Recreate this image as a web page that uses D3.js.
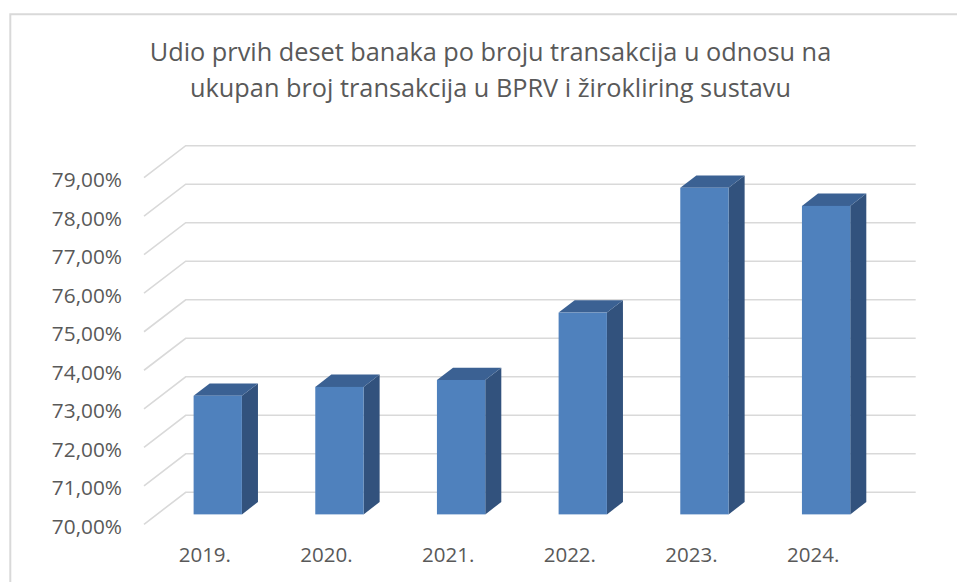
<!DOCTYPE html>
<html>
<head>
<meta charset="utf-8">
<script src="https://cdn.jsdelivr.net/npm/d3@7"></script>
<style>
  html, body { margin: 0; padding: 0; background: #fff; }
  svg { display: block; }
  text { font-family: "Open Sans", "Liberation Sans", sans-serif; fill: #595959; }
</style>
</head>
<body>
<svg id="chart" width="957" height="582"></svg>
<script>
// ---- data ----
const categories = ["2019.", "2020.", "2021.", "2022.", "2023.", "2024."];
const values = [73.08, 73.31, 73.49, 75.24, 78.48, 78.01];
const yTicks = [70, 71, 72, 73, 74, 75, 76, 77, 78, 79];
const titleLines = [
  "Udio prvih deset banaka po broju transakcija u odnosu na",
  "ukupan broj transakcija u BPRV i žirokliring sustavu"
];

// ---- layout ----
const W = 957, H = 582;
const plot = { x0: 144, x1: 874, yBottom: 524.3, yTop: 177.7 };
const depth = { dx: 41.7, dy: -32 };
const barDepthStart = 0.31, barDepthEnd = 0.695;

const svg = d3.select("#chart");

// chart frame (extends beyond visible area on right/bottom)
svg.append("path")
  .attr("d", `M${W + 5},14.3 L10.3,14.3 L10.3,${H + 5}`)
  .attr("fill", "none").attr("stroke", "#d9d9d9").attr("stroke-width", 2);

const y = d3.scaleLinear().domain([70, 79]).range([plot.yBottom, plot.yTop]);
const x = d3.scaleBand().domain(categories).range([plot.x0, plot.x1]).paddingInner(0).paddingOuter(0);

// gridlines: left wall diagonal + back wall horizontal
svg.append("g").selectAll("path").data(yTicks).join("path")
  .attr("d", t => {
    const yy = y(t);
    return `M${plot.x0},${yy} L${plot.x0 + depth.dx},${yy + depth.dy} L${plot.x1 + depth.dx},${yy + depth.dy}`;
  })
  .attr("fill", "none").attr("stroke", "#d9d9d9").attr("stroke-width", 1.6);

// y tick labels
const fmt = v => d3.format(".2f")(v).replace(".", ",") + "%";
svg.append("g").selectAll("text").data(yTicks).join("text")
  .attr("x", 122).attr("y", t => y(t) + 1.5)
  .attr("text-anchor", "end").attr("dominant-baseline", "central")
  .style("font-size", "20.8px")
  .text(fmt);

// bars
const bw = x.bandwidth() * 0.397;
const sx = depth.dx * barDepthStart, sy = depth.dy * barDepthStart;
const ddx = depth.dx * (barDepthEnd - barDepthStart), ddy = depth.dy * (barDepthEnd - barDepthStart);
const data = categories.map((c, i) => ({ c, v: values[i] }));
const bars = svg.append("g").selectAll("g").data(data).join("g");
bars.each(function(d) {
  const g = d3.select(this);
  const xl = x(d.c) + x.bandwidth() / 2 - bw / 2 + sx;
  const xr = xl + bw;
  const yt = y(d.v) + sy;
  const yb = y(70) + sy;
  // side
  g.append("path")
    .attr("d", `M${xr},${yt} L${xr + ddx},${yt + ddy} L${xr + ddx},${yb + ddy} L${xr},${yb} Z`)
    .attr("fill", "#32527d");
  // top
  g.append("path")
    .attr("d", `M${xl},${yt} L${xl + ddx},${yt + ddy} L${xr + ddx},${yt + ddy} L${xr},${yt} Z`)
    .attr("fill", "#3b6193");
  // front
  g.append("rect")
    .attr("x", xl).attr("y", yt).attr("width", bw).attr("height", yb - yt)
    .attr("fill", "#4f81bd");
});

// category labels
svg.append("g").selectAll("text").data(categories).join("text")
  .attr("x", c => x(c) + x.bandwidth() / 2).attr("y", 561.5)
  .attr("text-anchor", "middle")
  .style("font-size", "20.5px")
  .text(c => c);

// title
svg.append("g").selectAll("text").data(titleLines).join("text")
  .attr("x", 490.5).attr("y", (d, i) => 61 + i * 35.5)
  .attr("text-anchor", "middle")
  .style("font-size", "25.3px")
  .text(d => d);
</script>
</body>
</html>
